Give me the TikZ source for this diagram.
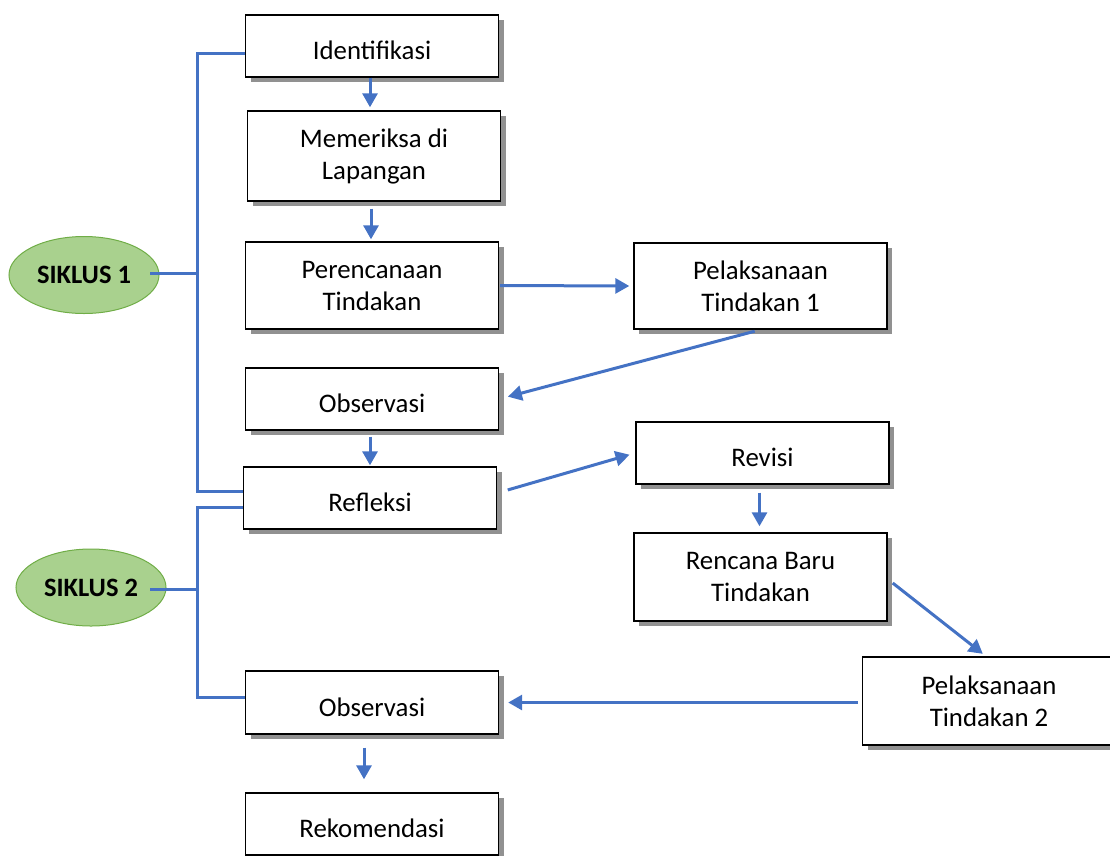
\documentclass[tikz,border=0pt]{standalone}
\usepackage{fontspec}
\setmainfont{Carlito}
\usetikzlibrary{arrows.meta,shadows,calc,shapes.geometric}
\definecolor{lblue}{RGB}{68,114,196}
\definecolor{gfill}{RGB}{169,209,142}
\definecolor{gdraw}{RGB}{112,173,71}
\definecolor{shgray}{RGB}{145,145,145}
\begin{document}
\begin{tikzpicture}[x=1pt,y=-1pt,
  box/.style={draw=black,line width=1.4pt,fill=white,minimum width=253pt,inner sep=0pt,
    align=center,font=\fontsize{26.8}{32}\selectfont,
    drop shadow={shadow xshift=5pt,shadow yshift=-5pt,fill=shgray,opacity=1}},
  one/.style={text height=27pt,text depth=0pt},
  cyc/.style={ellipse,draw=gdraw,line width=1pt,fill=gfill,minimum width=150pt,minimum height=77pt,
    inner sep=0pt,font=\fontsize{26.5}{32}\selectfont\bfseries},
  conn/.style={draw=lblue,line width=3pt},
  arr/.style={conn,-{Triangle[length=14pt,width=15pt]}}]
\useasboundingbox (0,0) rectangle (1110,855);
% boxes
\node[box,one,minimum height=62pt] (iden) at (372,46) {Identifikasi};
\node[box,minimum height=90pt] (mem) at (374,156) {Memeriksa di\\Lapangan};
\node[box,minimum height=87pt] (per) at (372,285.5) {Perencanaan\\Tindakan};
\node[box,minimum height=86pt] (pel1) at (760.5,286) {Pelaksanaan\\Tindakan 1};
\node[box,one,minimum height=62pt] (obs1) at (372,399) {Observasi};
\node[box,one,minimum height=62pt] (refl) at (370,498) {Refleksi};
\node[box,one,minimum height=62pt] (rev) at (762.5,453) {Revisi};
\node[box,minimum height=88pt] (ren) at (760.5,577) {Rencana Baru\\Tindakan};
\node[box,minimum height=88pt] (pel2) at (989,701) {Pelaksanaan\\Tindakan 2};
\node[box,one,minimum height=63pt] (obs2) at (372,702.5) {Observasi};
\node[box,one,minimum height=62pt] (rek) at (372,824) {Rekomendasi};
% cycles
\node[cyc] (s1) at (84,275) {SIKLUS 1};
\node[cyc] (s2) at (91,587.5) {SIKLUS 2};
% brackets
\coordinate (b1t) at (197,53);
\coordinate (b1m) at (197,273);
\coordinate (b1b) at (197,491);
\coordinate (b2t) at (197,507);
\coordinate (b2m) at (197,589);
\coordinate (b2b) at (197,697);
\coordinate (s1e) at (150,273);
\coordinate (s2e) at (150,589);
\draw[conn] (b1t -| iden.west) -- (b1t) -- (b1b) -- (b1b -| refl.west);
\draw[conn] (s1e) -- (b1m);
\draw[conn] (b2t -| refl.west) -- (b2t) -- (b2b) -- (b2b -| obs2.west);
\draw[conn] (s2e) -- (b2m);
% arrows
\draw[arr,shorten >=3pt] ($(iden.south)+(-2,0)$) -- ($(mem.north)+(-4,0)$);
\draw[arr,shorten <=7pt,shorten >=2pt] ($(mem.south)+(-3,0)$) -- ($(per.north)+(-1,0)$);
\draw[arr,shorten <=1pt,shorten >=4pt] (per.east) -- (pel1.west);
\draw[arr,shorten <=6pt,shorten >=9pt] (pel1.south) -- (obs1.east);
\draw[arr,shorten <=6pt,shorten >=1pt] ($(obs1.south)+(-2,0)$) -- ($(refl.north)+(0,0)$);
\draw[arr,shorten <=11pt,shorten >=6pt] ($(refl.east)+(0,-5)$) -- (rev.west);
\draw[arr,shorten <=8pt,shorten >=6pt] ($(rev.south)+(-3,0)$) -- ($(ren.north)+(-1,0)$);
\draw[arr,shorten <=0pt,shorten >=4pt] ($(ren.east)+(5,6)$) -- ($(pel2.north)+(-3,0)$);
\draw[arr,shorten <=4pt,shorten >=9pt] (obs2.east -| pel2.west) -- (obs2.east);
\draw[arr,shorten <=13pt,shorten >=13pt] ($(obs2.south)+(-8,0)$) -- ($(rek.north)+(-8,0)$);
\end{tikzpicture}
\end{document}
